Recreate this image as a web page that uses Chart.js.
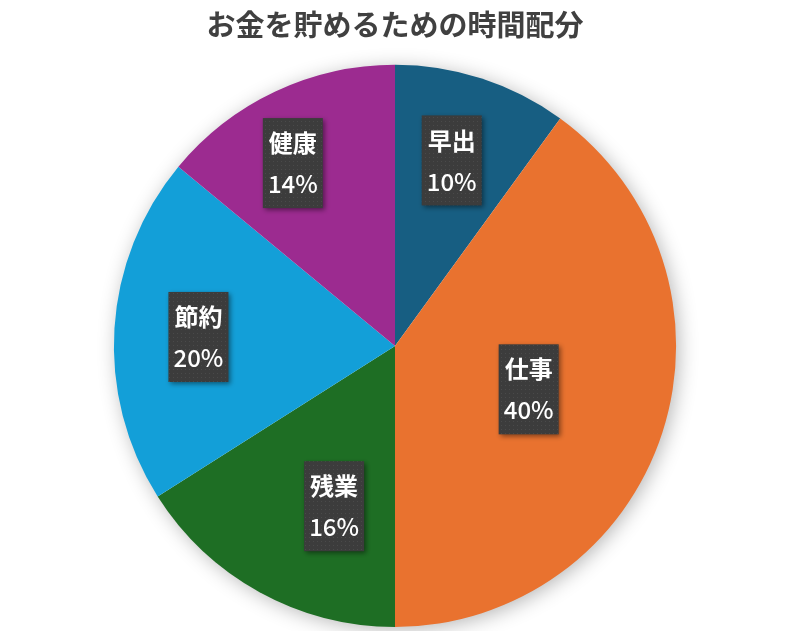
<!DOCTYPE html>
<html>
<head>
<meta charset="utf-8">
<script src="https://cdn.jsdelivr.net/npm/chart.js@4/dist/chart.umd.min.js"></script>
<style>
  html, body { margin: 0; padding: 0; background: #fff; }
  #wrap { width: 800px; height: 631px; }
</style>
</head>
<body>
<div id="wrap"><canvas id="pie"></canvas></div>
<script>
const titleText = 'お金を貯めるための時間配分';
const categories = ['早出', '仕事', '残業', '節約', '健康'];
const shares = [10, 40, 16, 20, 14];
const sliceColors = ['#175e82', '#e9722f', '#1e6e24', '#139fd8', '#9c2b90'];

// label box placement: fraction of radius, and nudge off the mid angle (deg)
const labelRadius = [0.69, 0.5, 0.61, 0.7, 0.745];
const labelAngleShift = [-1, 0, -8, -1, -4];

const makeDotPattern = (ctx) => {
  const c = document.createElement('canvas');
  c.width = 4;
  c.height = 4;
  const p = c.getContext('2d');
  p.fillStyle = '#3c3c3c';
  p.fillRect(0, 0, 4, 4);
  p.fillStyle = '#4a4a4a';
  p.fillRect(1, 1, 1, 1);
  return ctx.createPattern(c, 'repeat');
};

const pieShadow = {
  id: 'pieShadow',
  beforeDatasetsDraw(chart) {
    const arc = chart.getDatasetMeta(0).data[0];
    if (!arc) return;
    const ctx = chart.ctx;
    ctx.save();
    ctx.shadowColor = 'rgba(0,0,0,0.3)';
    ctx.shadowBlur = 20;
    ctx.shadowOffsetX = 3;
    ctx.shadowOffsetY = 3;
    ctx.fillStyle = '#ffffff';
    ctx.beginPath();
    ctx.arc(arc.x, arc.y, arc.outerRadius - 1, 0, Math.PI * 2);
    ctx.fill();
    ctx.restore();
  }
};

const boxLabels = {
  id: 'boxLabels',
  afterDatasetsDraw(chart) {
    const ctx = chart.ctx;
    const meta = chart.getDatasetMeta(0);
    const total = shares.reduce((a, b) => a + b, 0);
    const pattern = makeDotPattern(ctx);
    meta.data.forEach((arc, i) => {
      const mid = (arc.startAngle + arc.endAngle) / 2 + labelAngleShift[i] * Math.PI / 180;
      const r = arc.outerRadius * labelRadius[i];
      const cx = arc.x + Math.cos(mid) * r;
      const cy = arc.y + Math.sin(mid) * r;
      const w = 60, h = 90;
      ctx.save();
      ctx.shadowColor = 'rgba(0,0,0,0.45)';
      ctx.shadowBlur = 5;
      ctx.shadowOffsetX = 2;
      ctx.shadowOffsetY = 2;
      ctx.fillStyle = pattern;
      ctx.fillRect(cx - w / 2, cy - h / 2, w, h);
      ctx.restore();

      ctx.save();
      ctx.fillStyle = '#ffffff';
      ctx.textAlign = 'center';
      ctx.textBaseline = 'middle';
      ctx.font = 'bold 24px "Noto Sans CJK JP", "Noto Sans", sans-serif';
      ctx.fillText(categories[i], cx, cy - 20);
      ctx.font = '500 24px "Noto Sans CJK JP", "Noto Sans", sans-serif';
      ctx.fillText(Math.round(shares[i] / total * 100) + '%', cx, cy + 21);
      ctx.restore();
    });
  }
};

new Chart('pie', {
  type: 'pie',
  data: {
    labels: categories,
    datasets: [{
      data: shares,
      backgroundColor: sliceColors,
      borderWidth: 0
    }]
  },
  options: {
    responsive: true,
    maintainAspectRatio: false,
    animation: false,
    layout: { padding: { left: 0, right: 10, top: 0, bottom: 4 } },
    plugins: {
      legend: { display: false },
      tooltip: { enabled: false },
      title: {
        display: true,
        text: titleText,
        color: '#404040',
        font: { family: '"Noto Sans CJK JP", sans-serif', size: 29, weight: 'bold', lineHeight: 1.2 },
        padding: { top: 8, bottom: 22 }
      }
    }
  },
  plugins: [pieShadow, boxLabels]
});
</script>
</body>
</html>
